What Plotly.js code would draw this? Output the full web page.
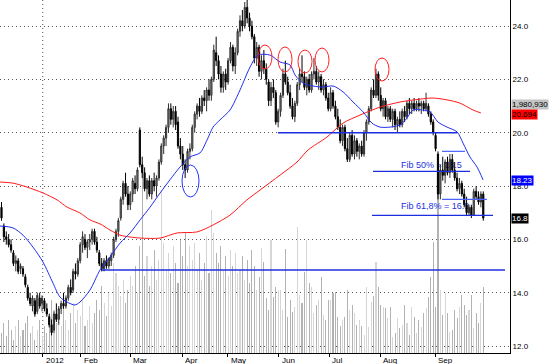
<!DOCTYPE html>
<html>
<head>
<meta charset="utf-8">
<script src="https://cdn.plot.ly/plotly-3.0.1.min.js"></script>
<style>
html,body{margin:0;padding:0;background:#fff;}
#chart{width:550px;height:364px;}
</style>
</head>
<body>
<div id="chart"></div>
<script>
// ---- data ----
const openP = [17.2,16.5,16.1,16.0,15.8,15.5,15.1,15.2,14.9,14.9,
14.6,14.2,13.8,13.5,13.7,13.3,13.8,13.6,13.7,13.4,
13.1,12.8,12.6,13.2,13.0,13.4,13.6,13.5,13.8,14.2,
14.1,14.8,14.7,15.2,15.8,16.0,15.7,15.9,16.0,16.3,
15.9,15.5,15.1,14.9,15.2,15.0,15.2,15.4,16.0,16.3,
16.8,17.5,18.1,17.7,17.3,17.7,18.1,17.9,20.1,18.8,
18.5,17.9,18.2,17.7,18.2,18.0,18.3,18.9,19.5,19.8,
20.2,20.9,20.5,20.8,20.4,19.5,19.2,18.8,18.6,19.3,
19.4,20.2,20.7,21.0,20.8,21.3,21.2,21.6,21.4,22.0,
23.0,22.7,22.2,21.7,22.2,21.9,22.7,23.2,22.5,23.0,
23.8,24.2,24.0,24.7,24.3,24.0,23.6,22.8,23.2,22.3,
22.7,22.4,21.9,21.2,21.7,21.5,20.4,20.8,21.4,22.2,
21.9,21.5,21.0,20.6,21.1,21.8,22.2,22.1,21.7,22.0,
21.6,22.2,22.3,21.9,22.1,21.6,21.8,21.3,20.9,21.5,
21.0,20.6,20.2,19.7,20.2,19.4,19.0,19.9,19.2,19.7,
19.3,19.5,19.2,20.0,20.4,20.9,21.6,21.4,22.2,21.4,
20.9,21.2,20.6,20.9,20.5,20.8,20.3,20.5,20.3,20.8,
20.6,21.1,20.9,21.1,20.9,21.1,21.0,21.1,20.9,21.0,
20.7,20.4,19.9,19.2,17.7,18.6,18.4,18.9,18.5,19.0,
18.6,18.3,17.9,18.1,17.7,17.3,17.0,17.2,16.9,17.8,17.6,17.4,17.7];
const highP = [17.4,16.6,16.3,16.2,16.0,15.6,15.4,15.3,15.1,15.0,
14.7,14.3,14.0,13.9,13.8,14.0,14.0,13.9,13.8,13.6,
13.2,13.0,13.3,13.6,13.5,13.7,14.0,13.9,14.3,14.5,
14.9,15.1,15.3,15.9,16.3,16.2,16.0,16.2,16.4,16.4,
16.1,15.6,15.3,15.3,15.4,15.3,15.5,16.1,16.4,16.8,
17.6,18.2,18.5,18.0,17.8,18.3,18.4,18.7,20.2,19.1,
18.7,18.3,18.4,18.3,18.5,18.4,19.0,19.6,19.9,20.3,
21.1,21.1,21.0,21.0,20.6,19.8,19.5,19.0,19.4,19.6,
20.3,20.8,21.1,21.3,21.4,21.6,21.7,22.0,22.1,23.3,
23.6,22.9,22.5,22.3,22.4,22.8,23.4,23.3,23.2,23.9,
24.4,24.6,24.9,25.0,24.5,24.2,23.7,23.4,23.3,22.9,
23.1,22.6,22.0,21.9,22.0,21.6,20.9,21.5,22.4,22.7,
22.1,21.8,21.3,21.2,21.9,22.4,22.9,22.3,22.1,22.2,
22.3,22.8,22.5,22.3,22.2,22.0,21.9,21.5,21.7,21.6,
21.2,20.9,20.5,20.3,20.3,19.8,20.0,20.1,19.9,19.8,
19.6,19.7,20.1,20.5,21.0,21.7,22.0,22.4,22.3,21.7,
21.3,21.3,21.0,21.0,20.9,20.9,20.6,20.8,20.9,21.0,
21.2,21.3,21.2,21.3,21.2,21.3,21.2,21.2,21.5,21.1,
20.8,20.5,20.0,19.3,18.8,19.1,19.0,19.1,19.2,19.2,
18.9,18.5,18.3,18.2,17.9,17.6,17.3,17.3,17.9,18.0,17.8,17.8,17.8];
const lowP = [16.7,15.9,15.8,15.7,15.5,15.0,14.8,14.7,14.7,14.6,
14.2,13.7,13.5,13.3,13.1,13.2,13.4,13.3,13.3,13.1,
12.7,12.4,12.5,12.9,12.8,13.2,13.4,13.4,13.7,13.9,
14.0,14.5,14.6,15.1,15.5,15.6,15.3,15.6,15.8,15.8,
15.5,15.0,14.8,14.8,14.9,14.9,15.0,15.3,15.9,16.1,
16.7,17.3,17.6,17.1,17.1,17.4,17.7,17.8,18.7,18.3,
17.8,17.5,17.6,17.5,17.8,17.6,18.2,18.8,19.2,19.5,
20.0,20.3,20.2,20.1,19.4,19.0,18.6,18.3,18.5,19.0,
19.3,20.0,20.5,20.6,20.7,21.0,20.8,21.2,21.2,21.9,
22.5,22.0,21.5,21.5,21.6,21.8,22.6,22.3,22.2,22.9,
23.6,23.8,23.9,24.1,23.8,23.5,22.6,22.5,22.1,22.0,
22.2,21.8,21.0,21.0,21.3,20.3,20.2,20.6,21.3,21.8,
21.4,20.9,20.5,20.4,21.0,21.6,21.9,21.6,21.4,21.5,
21.5,22.0,21.8,21.6,21.5,21.4,21.2,20.8,20.8,20.9,
20.5,20.1,19.6,19.5,19.3,18.9,18.9,19.1,19.0,19.1,
19.0,19.1,19.1,19.7,20.3,20.8,21.3,21.3,21.2,20.8,
20.6,20.5,20.4,20.4,20.2,20.1,20.0,20.2,20.2,20.4,
20.5,20.7,20.7,20.8,20.8,20.8,20.7,20.8,20.8,20.6,
20.3,19.9,19.3,17.5,17.5,18.2,18.1,18.4,18.3,18.5,
18.2,17.8,17.7,17.6,17.2,16.9,16.9,16.8,16.9,17.5,17.3,17.2,16.7];
const closeP = [16.8,16.1,16.0,15.8,15.6,15.1,15.2,14.8,15.0,14.7,
14.3,13.8,13.6,13.8,13.2,13.9,13.5,13.8,13.4,13.2,
12.8,12.5,13.2,13.0,13.4,13.6,13.5,13.8,14.2,14.0,
14.8,14.7,15.2,15.8,16.1,15.7,15.9,16.0,16.3,15.9,
15.6,15.1,14.9,15.2,15.0,15.3,15.4,16.0,16.3,16.7,
17.5,18.1,17.7,17.3,17.7,18.2,17.9,18.6,18.8,18.5,
17.9,18.2,17.7,18.2,18.0,18.3,18.9,19.5,19.8,20.2,
20.9,20.5,20.8,20.3,19.5,19.2,18.8,18.6,19.3,19.4,
20.2,20.7,21.0,20.8,21.3,21.2,21.6,21.4,22.0,23.1,
22.7,22.2,21.7,22.2,21.9,22.7,23.2,22.5,23.0,23.8,
24.2,24.0,24.7,24.3,24.0,23.6,22.8,23.2,22.3,22.7,
22.4,22.0,21.2,21.7,21.5,20.4,20.8,21.4,22.2,21.9,
21.5,21.0,20.6,21.1,21.8,22.2,22.1,21.7,22.0,21.6,
22.2,22.3,21.9,22.1,21.6,21.8,21.3,20.9,21.5,21.0,
20.6,20.2,19.7,20.2,19.4,19.0,19.9,19.2,19.7,19.3,
19.5,19.2,20.0,20.4,20.9,21.6,21.4,22.2,21.4,20.9,
21.2,20.6,20.9,20.5,20.8,20.3,20.5,20.3,20.8,20.6,
21.1,20.9,21.1,20.9,21.1,21.0,21.1,20.9,21.1,20.7,
20.4,20.0,19.4,17.7,18.6,18.4,18.9,18.5,19.0,18.6,
18.3,17.9,18.1,17.7,17.3,17.0,17.2,16.9,17.8,17.6,17.4,17.7,16.8];
// volume in millions of shares
const volumeM = [0.6,0.9,0.5,1.0,0.7,0.4,0.8,1.0,0.5,0.7,0.9,1.1,0.6,0.8,0.4,0.7,1.0,0.5,0.8,0.6,
1.2,1.6,1.3,0.9,1.1,0.8,1.4,1.0,0.7,1.2,1.5,0.9,1.3,1.1,1.6,0.8,1.0,1.4,0.9,1.2,
1.6,1.3,2.0,1.5,1.1,1.8,1.4,2.7,2.4,2.0,1.7,2.2,1.5,1.9,2.3,
2.0,2.6,1.8,3.2,5.7,
2.3,2.9,2.0,2.6,3.1,2.2,2.8,4.9,3.3,2.5,3.0,2.4,3.2,2.7,2.1,3.4,2.9,3.6,2.6,3.2,
2.8,3.3,2.5,3.0,2.2,2.7,3.5,2.4,4.3,3.6,3.0,2.7,3.2,2.5,2.9,2.3,3.1,2.6,3.0,2.4,
2.5,2.9,2.2,2.8,2.1,3.1,2.6,
1.89,2.29,3.14,2.74,1.64,1.29,3.39,1.69,1.99,1.9,
1.89,1.29,3.11,1.09,1.59,1.24,1.39,3.79,1.74,1.49,
2.44,3.39,2.09,1.99,1.19,1.44,1.59,2.27,1.14,0.99,
1.59,1.59,1.79,1.84,1.09,0.81,0.99,1.09,1.89,1.29,
1.44,1.19,0.84,0.99,0.81,0.54,1.97,0.79,1.54,1.72,
2.74,1.99,1.44,1.39,1.36,1.04,1.37,0.49,0.59,1.04,
0.74,0.84,1.44,0.89,0.54,1.39,1.09,0.59,0.99,0.79,
1.19,1.34,1.69,2.29,3.34,1.39,5.6,
1.89,1.14,1.79,1.19,0.64,0.69,1.29,1.04,1.39,1.74,1.44,1.14,1.29,1.74,0.74,1.2,0.9,1.5,1.98];
// short moving average (blue), read at sample bar positions
const maShortIdx = [-0.6,4.8,9.0,13.2,17.4,21.6,24.5,27.5,30.8,32.9,37.1,41.3,45.5,49.7,53.9,58.1,62.3,66.5,70.6,74.8,79.0,83.2,86.2,88.7,91.6,95.8,100.0,104.2,107.5,112.6,116.8,121.0,123.1,126.4,130.6,134.8,139.0,143.2,147.4,151.6,155.3,158.7,162.9,167.1,170.0,172.5,176.7,179.7,183.0,186.8,191.0,193.5,196.4,199.4,201.9];
const maShortVal = [16.50,16.43,16.16,15.71,15.15,14.36,13.84,13.65,13.54,13.65,14.10,14.85,15.34,15.86,16.24,16.73,17.21,17.74,18.23,18.71,19.09,19.24,19.73,20.21,20.48,20.85,21.60,22.46,22.91,22.91,22.65,22.54,22.16,21.86,21.75,21.71,21.75,21.53,21.15,20.78,20.36,20.21,20.21,20.29,20.55,20.85,20.85,20.78,20.40,20.21,20.03,19.61,19.09,18.71,18.23];
// long moving average (red)
const maLongIdx = [-0.6,4.8,10.7,17.4,23.3,27.5,32.9,37.1,41.3,45.5,49.7,53.9,58.1,66.5,73.6,82.0,88.7,95.8,102.9,108.4,116.8,123.9,128.5,136.5,143.2,150.3,158.7,167.1,175.5,180.9,186.8,192.2,197.7,201.0];
const maLongVal = [18.15,18.11,17.96,17.74,17.48,17.21,16.99,16.73,16.58,16.35,16.16,16.09,16.05,16.05,16.24,16.28,16.54,16.91,17.48,17.85,18.41,18.90,19.35,19.84,20.36,20.66,20.96,21.15,21.26,21.30,21.23,21.11,20.85,20.74];
const monthLabels = ['Dec','2012','Feb','Mar','Apr','May','Jun','Jul','Aug','Sep'];
const monthTickIdx = [-3.1,17.3,33.2,53.9,75.7,94.8,116.2,137.4,158.7,181.8];
const priceTicks = [12,14,16,18,20,22,24];
const lastVolumeText = '1,980,930';
const lastLongMA = '20.694';
const lastShortMA = '18.23';
const lastClose = '16.8';

// ---- drawing ----
const PW = 510, PH = 353;              // plot area size in px
const px = v => v / PW;                  // pixel -> paper x
const py = v => (PH - v) / PH;           // pixel -> paper y
const idx = closeP.map((_, i) => i);
const volColors = closeP.map((c, i) => c >= openP[i] ? '#d6d6d6' : '#b2b2b2');
const FONT = 'Liberation Sans, Arial, sans-serif';
const BLUE = '#1c2fe0';

const traces = [
  {type:'bar', x: idx, y: volumeM, width: 0.45, marker:{color: volColors, line:{width:0}},
   xaxis:'x', yaxis:'y', hoverinfo:'skip'},
  {type:'scatter', mode:'text', x:[167.5], y:[(PH-166)/33.3], text:['Fib 50% = 18.5'],
   textposition:'middle right', textfont:{family:FONT, size:9, color:BLUE}, xaxis:'x', yaxis:'y', hoverinfo:'skip'},
  {type:'scatter', mode:'text', x:[167.5], y:[(PH-207)/33.3], text:['Fib 61,8% = 16.9'],
   textposition:'middle right', textfont:{family:FONT, size:9, color:BLUE}, xaxis:'x', yaxis:'y', hoverinfo:'skip'},
  {type:'candlestick', x: idx, open: openP, high: highP, low: lowP, close: closeP,
   xaxis:'x', yaxis:'y2', whiskerwidth: 0,
   increasing:{line:{color:'#2e2e2e', width:1}, fillcolor:'#9a9a9a'},
   decreasing:{line:{color:'#000000', width:1}, fillcolor:'#000000'},
   hoverinfo:'skip'},
  {type:'scatter', mode:'lines', x: maLongIdx, y: maLongVal, xaxis:'x', yaxis:'y2',
   line:{color:'#ff1a1a', width:1, shape:'spline', smoothing:0.8}, hoverinfo:'skip'},
  {type:'scatter', mode:'lines', x: maShortIdx, y: maShortVal, xaxis:'x', yaxis:'y2',
   line:{color:'#1f2ef0', width:1, shape:'spline', smoothing:0.8}, hoverinfo:'skip'}
];

const hline = (x0, x1, y, color, w) => ({type:'line', xref:'paper', yref:'y2',
  x0: px(x0), x1: px(x1), y0: y, y1: y, line:{color: color, width: w}});
const ell = (x0, y0, x1, y1, color) => ({type:'circle', xref:'paper', yref:'paper',
  x0: px(x0), x1: px(x1), y0: py(y1), y1: py(y0), line:{color: color, width: 1}});

const shapes = [
  {type:'line', xref:'x', yref:'paper', x0: monthTickIdx[1], x1: monthTickIdx[1], y0:0, y1:1,
   line:{color:'#555555', width:1, dash:'1px,3px'}, layer:'below'},
  hline(278, 457, 20.0, BLUE, 1.5),
  hline(102, 505, 14.85, BLUE, 1.5),
  hline(373, 470, 18.55, BLUE, 1.2),
  hline(372, 493, 16.9, BLUE, 1.2),
  hline(442, 465, 19.3, '#4a63ff', 1.2),
  hline(442, 487, 17.5, '#4a63ff', 1.2),
  ell(258, 45, 272, 69, '#ff2020'),
  ell(278, 47, 292, 72, '#ff2020'),
  ell(298, 50, 312, 73, '#ff2020'),
  ell(315, 48, 329, 72, '#ff2020'),
  ell(375, 58, 389, 81, '#ff2020'),
  ell(182, 165, 199, 197, '#2233ff')
];

const annotations = monthLabels.map((t, k) => ({
  xref:'x', yref:'paper', x: monthTickIdx[k], y: 0, xanchor:'left', yanchor:'top',
  xshift: 1, yshift: -1, text: t, showarrow:false, font:{family:FONT, size:8, color:'#000'}
}));
const tag = (text, yPix, bg, fg) => ({xref:'paper', yref:'paper', x: 1, y: py(yPix),
  xanchor:'left', yanchor:'middle', xshift: 1, text: text, showarrow:false,
  bgcolor: bg, borderpad: 0, font:{family:FONT, size:8, color: fg}});
annotations.push(tag(lastVolumeText, 104, '#c4c4c4', '#000'));
annotations.push(tag(lastLongMA, 114.5, '#ff0000', '#000'));
annotations.push(tag(lastShortMA, 180, '#0000ff', '#fff'));
annotations.push(tag(lastClose, 218, '#000000', '#fff'));

const layout = {
  width: 550, height: 364,
  margin:{l:0, r:40, t:0, b:11, pad:0},
  paper_bgcolor:'#ffffff', plot_bgcolor:'#ffffff',
  showlegend:false,
  font:{family:FONT, size:8, color:'#000'},
  xaxis:{range:[-0.63, 213.2], showgrid:false, zeroline:false, showline:true, linecolor:'#000', linewidth:1,
    tickmode:'array', tickvals: monthTickIdx, ticks:'outside', ticklen:3, tickcolor:'#000',
    showticklabels:false, rangeslider:{visible:false}, fixedrange:true},
  yaxis:{range:[0, PH/33.3], visible:false, showgrid:false, zeroline:false, fixedrange:true},
  yaxis2:{overlaying:'y', side:'right', range:[11.74, 24.975], tickmode:'array', tickvals: priceTicks,
    tickformat:'.1f', showgrid:true, gridcolor:'#555555', gridwidth:1, griddash:'1px,3px',
    showline:true, linecolor:'#000', linewidth:1, ticks:'', zeroline:false,
    tickfont:{family:FONT, size:8, color:'#000'}, fixedrange:true},
  shapes: shapes,
  annotations: annotations,
  bargap: 0
};

Plotly.newPlot('chart', traces, layout, {displayModeBar:false, staticPlot:true});
</script>
</body>
</html>
